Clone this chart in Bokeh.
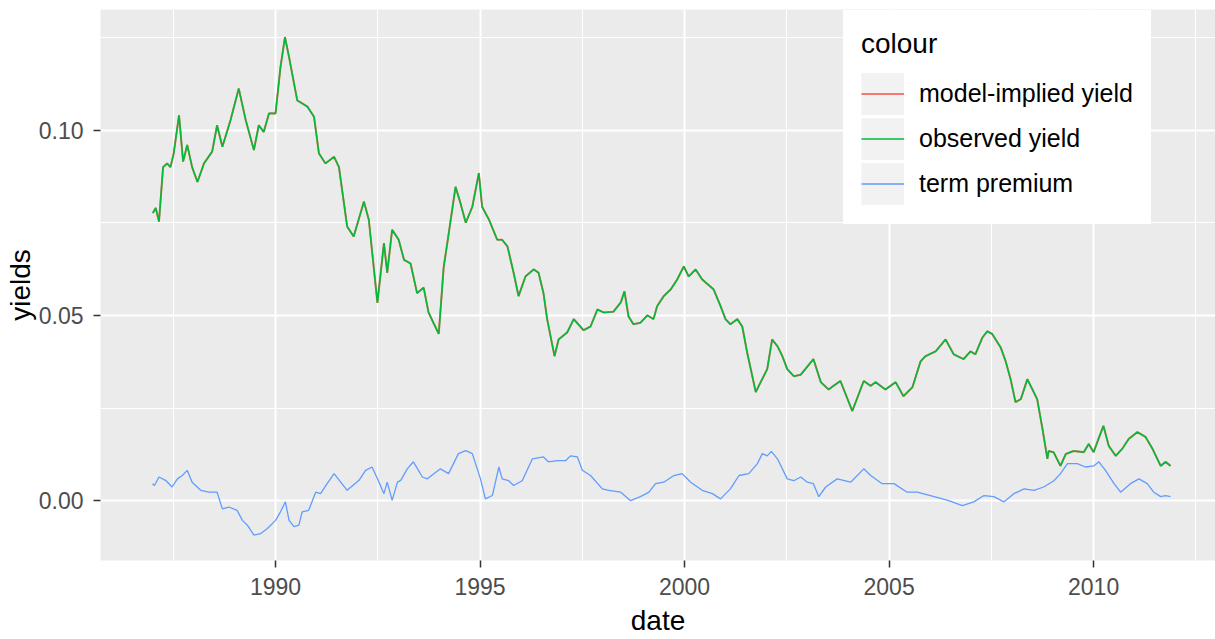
from bokeh.plotting import figure
from bokeh.models import Range1d, FixedTicker, PrintfTickFormatter, Legend, LegendItem
from bokeh.embed import file_html
from bokeh.resources import INLINE

# ---------------- data ----------------
obs_date = [1987.00, 1987.07, 1987.15, 1987.25, 1987.35, 1987.43, 1987.51, 1987.64, 1987.74, 1987.84,
            1987.96, 1988.09, 1988.25, 1988.45, 1988.57, 1988.70, 1988.90, 1989.10, 1989.27, 1989.47,
            1989.59, 1989.71, 1989.84, 1990.00, 1990.12, 1990.23, 1990.33, 1990.53, 1990.65, 1990.78,
            1990.94, 1991.06, 1991.22, 1991.43, 1991.55, 1991.75, 1991.91, 1992.16, 1992.28, 1992.49,
            1992.65, 1992.73, 1992.85, 1993.01, 1993.14, 1993.30, 1993.46, 1993.62, 1993.74, 1993.86,
            1993.99, 1994.11, 1994.20, 1994.40, 1994.52, 1994.65, 1994.81, 1994.97, 1995.05, 1995.22,
            1995.42, 1995.54, 1995.67, 1995.82, 1995.94, 1996.11, 1996.31, 1996.43, 1996.55, 1996.64,
            1996.82, 1996.92, 1997.13, 1997.29, 1997.53, 1997.70, 1997.87, 1998.02, 1998.26, 1998.44,
            1998.53, 1998.63, 1998.75, 1998.92, 1999.09, 1999.24, 1999.33, 1999.49, 1999.66, 1999.82,
            1999.98, 2000.10, 2000.27, 2000.43, 2000.71, 2000.88, 2001.00, 2001.12, 2001.29, 2001.41,
            2001.53, 2001.74, 2001.86, 2002.02, 2002.14, 2002.27, 2002.39, 2002.51, 2002.67, 2002.84,
            2003.15, 2003.33, 2003.52, 2003.64, 2003.81, 2004.10, 2004.38, 2004.55, 2004.67, 2004.91,
            2005.16, 2005.35, 2005.57, 2005.77, 2005.89, 2006.14, 2006.38, 2006.58, 2006.82, 2006.99,
            2007.11, 2007.28, 2007.40, 2007.52, 2007.73, 2007.85, 2007.97, 2008.09, 2008.22, 2008.38,
            2008.62, 2008.75, 2008.87, 2008.90, 2009.02, 2009.19, 2009.32, 2009.51, 2009.76, 2009.88,
            2010.00, 2010.12, 2010.24, 2010.37, 2010.54, 2010.70, 2010.86, 2011.07, 2011.27, 2011.44,
            2011.64, 2011.76, 2011.88]

observed_yield = [0.0776, 0.0790, 0.0753, 0.0900, 0.0910, 0.0900, 0.0937, 0.1040, 0.0915, 0.0960,
                  0.0900, 0.0860, 0.0910, 0.0942, 0.1013, 0.0955, 0.1027, 0.1112, 0.1027, 0.0946,
                  0.1013, 0.0995, 0.1045, 0.1045, 0.1170, 0.1251, 0.1197, 0.1080, 0.1072, 0.1063,
                  0.1036, 0.0937, 0.0910, 0.0928, 0.0900, 0.0740, 0.0713, 0.0807, 0.0758, 0.0534,
                  0.0695, 0.0615, 0.0731, 0.0704, 0.0650, 0.0640, 0.0560, 0.0575, 0.0508, 0.0480,
                  0.0450, 0.0630, 0.0696, 0.0847, 0.0803, 0.0750, 0.0793, 0.0884, 0.0793, 0.0758,
                  0.0704, 0.0704, 0.0686, 0.0615, 0.0552, 0.0605, 0.0624, 0.0615, 0.0560, 0.0490,
                  0.0390, 0.0435, 0.0454, 0.0490, 0.0460, 0.0470, 0.0516, 0.0508, 0.0510, 0.0535,
                  0.0565, 0.0497, 0.0476, 0.0480, 0.0500, 0.0490, 0.0525, 0.0552, 0.0570, 0.0597,
                  0.0632, 0.0605, 0.0624, 0.0597, 0.0570, 0.0525, 0.0490, 0.0476, 0.0490, 0.0470,
                  0.0400, 0.0293, 0.0320, 0.0355, 0.0435, 0.0417, 0.0390, 0.0355, 0.0336, 0.0340,
                  0.0382, 0.0320, 0.0300, 0.0310, 0.0323, 0.0242, 0.0323, 0.0310, 0.0320, 0.0300,
                  0.0320, 0.0282, 0.0306, 0.0376, 0.0390, 0.0403, 0.0435, 0.0395, 0.0382, 0.0403,
                  0.0395, 0.0440, 0.0457, 0.0450, 0.0413, 0.0376, 0.0328, 0.0266, 0.0274, 0.0328,
                  0.0274, 0.0194, 0.0113, 0.0134, 0.0131, 0.0094, 0.0126, 0.0134, 0.0131, 0.0153,
                  0.0131, 0.0167, 0.0202, 0.0148, 0.0121, 0.0140, 0.0167, 0.0185, 0.0172, 0.0140,
                  0.0094, 0.0105, 0.0094]

# the model-implied yield coincides with the observed yield everywhere in the picture
model_implied_yield = list(observed_yield)

tp_date = [1986.99, 1987.04, 1987.15, 1987.31, 1987.47, 1987.60, 1987.72, 1987.84, 1987.96, 1988.17,
           1988.37, 1988.57, 1988.70, 1988.86, 1989.06, 1989.19, 1989.31, 1989.47, 1989.63, 1989.80,
           1990.00, 1990.12, 1990.24, 1990.33, 1990.45, 1990.57, 1990.65, 1990.81, 1990.98, 1991.10,
           1991.26, 1991.43, 1991.75, 1992.04, 1992.20, 1992.36, 1992.53, 1992.65, 1992.73, 1992.85,
           1992.98, 1993.06, 1993.22, 1993.37, 1993.59, 1993.71, 1994.03, 1994.23, 1994.47, 1994.65,
           1994.81, 1995.01, 1995.13, 1995.30, 1995.46, 1995.54, 1995.70, 1995.82, 1996.03, 1996.28,
           1996.55, 1996.67, 1996.89, 1997.09, 1997.21, 1997.38, 1997.50, 1997.70, 1997.99, 1998.15,
           1998.44, 1998.68, 1998.92, 1999.13, 1999.29, 1999.49, 1999.74, 1999.94, 2000.15, 2000.43,
           2000.68, 2000.88, 2001.12, 2001.33, 2001.57, 2001.78, 2001.90, 2002.02, 2002.12, 2002.27,
           2002.51, 2002.67, 2002.84, 2003.00, 2003.15, 2003.28, 2003.45, 2003.73, 2004.06, 2004.38,
           2004.55, 2004.83, 2005.12, 2005.44, 2005.69, 2006.10, 2006.46, 2006.79, 2007.07, 2007.32,
           2007.56, 2007.81, 2008.05, 2008.30, 2008.54, 2008.78, 2009.03, 2009.19, 2009.36, 2009.60,
           2009.80, 2010.01, 2010.13, 2010.29, 2010.50, 2010.66, 2010.90, 2011.11, 2011.31, 2011.47,
           2011.64, 2011.76, 2011.88]

term_premium = [0.0046, 0.0041, 0.0064, 0.0055, 0.0037, 0.0059, 0.0068, 0.0082, 0.0050, 0.0028,
                0.0023, 0.0023, -0.0022, -0.0017, -0.0026, -0.0053, -0.0066, -0.0093, -0.0089, -0.0075,
                -0.0053, -0.0030, -0.0003, -0.0053, -0.0070, -0.0066, -0.0030, -0.0026, 0.0023, 0.0019,
                0.0046, 0.0073, 0.0028, 0.0055, 0.0082, 0.0091, 0.0050, 0.0019, 0.0050, 0.0001,
                0.0050, 0.0055, 0.0086, 0.0105, 0.0064, 0.0059, 0.0086, 0.0073, 0.0127, 0.0135,
                0.0127, 0.0059, 0.0005, 0.0014, 0.0091, 0.0059, 0.0054, 0.0041, 0.0054, 0.0113,
                0.0118, 0.0105, 0.0108, 0.0108, 0.0121, 0.0118, 0.0082, 0.0068, 0.0032, 0.0028,
                0.0023, 0.0000, 0.0011, 0.0023, 0.0046, 0.0050, 0.0068, 0.0073, 0.0050, 0.0028,
                0.0019, 0.0005, 0.0032, 0.0068, 0.0073, 0.0100, 0.0127, 0.0121, 0.0133, 0.0113,
                0.0059, 0.0054, 0.0064, 0.0050, 0.0046, 0.0011, 0.0037, 0.0059, 0.0050, 0.0086,
                0.0068, 0.0046, 0.0046, 0.0023, 0.0023, 0.0011, 0.0000, -0.0013, -0.0003, 0.0014,
                0.0011, -0.0003, 0.0019, 0.0032, 0.0028, 0.0037, 0.0054, 0.0073, 0.0100, 0.0100,
                0.0091, 0.0094, 0.0105, 0.0082, 0.0046, 0.0023, 0.0046, 0.0059, 0.0046, 0.0023,
                0.0011, 0.0014, 0.0011]

series_labels = ["model-implied yield", "observed yield", "term premium"]
x_ticks = [1990, 1995, 2000, 2005, 2010]
x_minor = [1987.5, 1992.5, 1997.5, 2002.5, 2007.5, 2012.5]
y_ticks = [0.00, 0.05, 0.10]
y_minor = [-0.025, 0.025, 0.075, 0.125]

# ---------------- styling ----------------
FONT = "Liberation Sans"
RED, GREEN, BLUE = "#F8766D", "#00BA38", "#619CFF"

p = figure(width=1215, height=638, output_backend="svg", toolbar_location=None,
           x_range=Range1d(1985.72, 2012.98), y_range=Range1d(-0.01613, 0.13253),
           min_border_left=100, min_border_right=0, min_border_top=9, min_border_bottom=76,
           x_axis_label="date", y_axis_label="yields")
p.background_fill_color = "#EBEBEB"
p.border_fill_color = "white"
p.outline_line_color = None

xt = FixedTicker(ticks=x_ticks, minor_ticks=x_minor)
yt = FixedTicker(ticks=y_ticks, minor_ticks=y_minor)
p.xaxis.ticker = xt
p.yaxis.ticker = yt
p.xgrid.ticker = xt
p.ygrid.ticker = yt
p.xaxis.formatter = PrintfTickFormatter(format="%d")
p.yaxis.formatter = PrintfTickFormatter(format="%.2f")

for g in (p.xgrid[0], p.ygrid[0]):
    g.grid_line_color = "white"
    g.grid_line_width = 2
    g.minor_grid_line_color = "white"
    g.minor_grid_line_width = 1

for ax in (p.xaxis[0], p.yaxis[0]):
    ax.axis_line_color = None
    ax.major_tick_line_color = "#333333"
    ax.major_tick_line_width = 1.5
    ax.major_tick_out = 7
    ax.major_tick_in = 0
    ax.minor_tick_line_color = None
    ax.major_label_text_font = FONT
    ax.major_label_text_font_size = "23px"
    ax.major_label_text_color = "#4D4D4D"
    ax.axis_label_text_font = FONT
    ax.axis_label_text_font_size = "28px"
    ax.axis_label_text_color = "black"
    ax.axis_label_text_font_style = "normal"

p.xaxis.major_label_standoff = 10
p.xaxis.axis_label_standoff = 7
p.yaxis.major_label_standoff = 10
p.yaxis.axis_label_standoff = 0

r_model = p.line(obs_date, model_implied_yield, line_color=RED, line_width=2.0)
r_obs = p.line(obs_date, observed_yield, line_color=GREEN, line_width=1.6)
r_tp = p.line(tp_date, term_premium, line_color=BLUE, line_width=1.3)

# grey key background (a renderer with no visible data; only its legend glyph shows)
key_bg = p.line(x=[float("nan")], y=[float("nan")], line_color="#F2F2F2", line_width=42)

legend = Legend(
    items=[LegendItem(label=series_labels[0], renderers=[key_bg, r_model]),
           LegendItem(label=series_labels[1], renderers=[key_bg, r_obs]),
           LegendItem(label=series_labels[2], renderers=[key_bg, r_tp])],
    location=(743, 336), title="colour",
    glyph_width=43, glyph_height=45, label_height=45, spacing=0,
    padding=17, margin=0, label_standoff=15, title_standoff=11,
    border_line_color="white", border_line_width=1,
    background_fill_color="white", background_fill_alpha=1.0,
    label_text_font=FONT, label_text_font_size="25px", label_text_color="black",
    title_text_font=FONT, title_text_font_size="28px", title_text_font_style="normal",
    title_text_color="black",
)
p.add_layout(legend)

open("out.html", "w").write(file_html(p, INLINE))
